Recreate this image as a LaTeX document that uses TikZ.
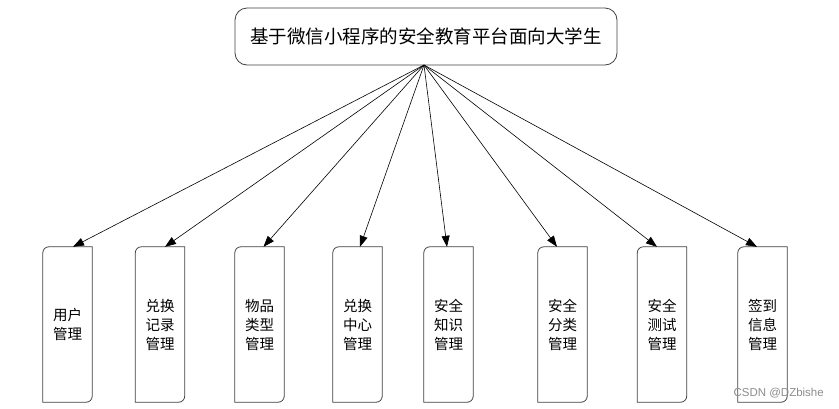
\documentclass[tikz,border=0pt]{standalone}
\usepackage{fontspec}
\setmainfont{Noto Sans CJK SC}
\usetikzlibrary{arrows.meta,calc}
\begin{document}
\begin{tikzpicture}[x=1pt,y=1pt,
  topbox/.style={draw=black!75, line width=0.8pt, rounded corners=12pt, minimum width=382pt, minimum height=57pt, inner sep=0pt, font=\fontsize{18.5}{22}\selectfont},
  subbox/.style={minimum width=49pt, minimum height=155pt, inner sep=0pt, align=center, font=\fontsize{14.5}{19}\selectfont},
  link/.style={line width=0.6pt, -{Triangle[length=11pt,width=8pt]}}
]
\useasboundingbox (0,0) rectangle (839,-408);
\node[topbox] (top) at (426,-36.5) {基于微信小程序的安全教育平台面向大学生};
\coordinate (hub) at (424,-65);
\node[subbox] (b1) at (67.5,-324.5) {用户\\管理};
\node[subbox] (b2) at (160,-324.5) {兑换\\记录\\管理};
\node[subbox] (b3) at (259.5,-324.5) {物品\\类型\\管理};
\node[subbox] (b4) at (357.5,-324.5) {兑换\\中心\\管理};
\node[subbox] (b5) at (448.5,-324.5) {安全\\知识\\管理};
\node[subbox] (b6) at (562.5,-324.5) {安全\\分类\\管理};
\node[subbox] (b7) at (662,-324.5) {安全\\测试\\管理};
\node[subbox] (b8) at (762.5,-324.5) {签到\\信息\\管理};
\foreach \b in {b1,b2,b3,b4,b5,b6,b7,b8}{
  \draw[draw=black!75, line width=0.8pt] (\b.south west) -- ([yshift=-6pt]\b.north west) arc[start angle=180,end angle=90,radius=6pt] -- (\b.north east) -- ([yshift=6pt]\b.south east) arc[start angle=0,end angle=-90,radius=6pt] -- cycle;
}
\foreach \b/\o in {b1/5.5,b2/5,b3/4,b4/2.5,b5/-1.5,b6/-5.5,b7/-5,b8/-5.5}{
  \draw[link] (hub) -- ([xshift=\o pt]\b.north);
}
\node[font=\fontsize{11.5}{13}\selectfont, text=black!45, anchor=east, inner sep=0pt] (wm) at (824,-393) {\fontspec{Liberation Sans}CSDN @DZbishe};
\end{tikzpicture}
\end{document}
